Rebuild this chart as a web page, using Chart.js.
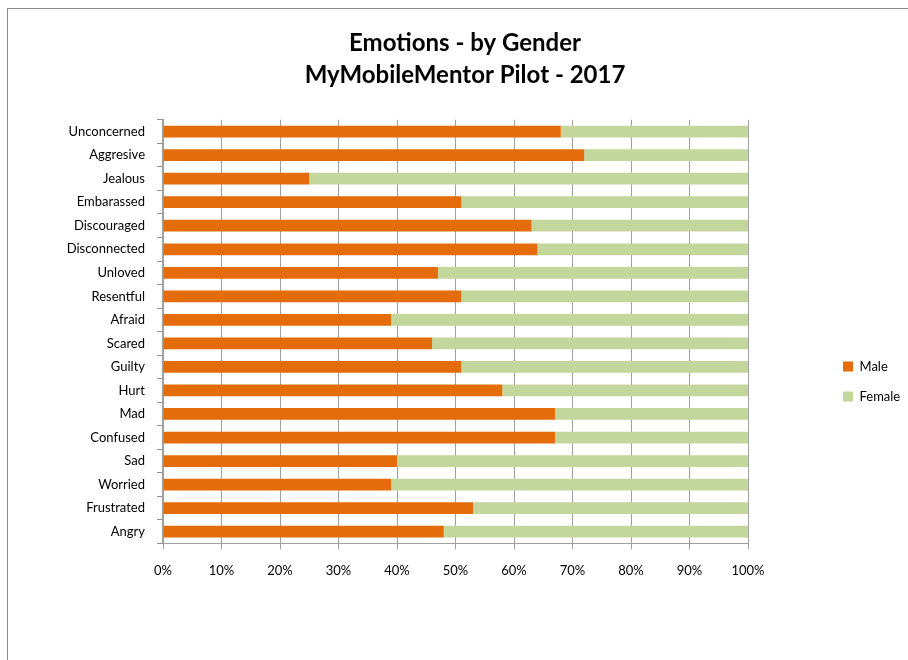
<!DOCTYPE html>
<html lang="en">
<head>
<meta charset="UTF-8" />
<title>Emotions - by Gender</title>
<style>
  html, body { margin: 0; padding: 0; background: #fff; overflow: hidden; }
  .frame { position: absolute; left: 7px; top: 8px; width: 1000px; height: 1000px; border: 1px solid #8c8c8c; }
  .container { position: absolute; left: 0; top: 0; width: 908px; height: 660px; }
</style>
<script src="https://cdn.jsdelivr.net/npm/chart.js@4.4.0/dist/chart.umd.min.js"></script>
</head>
<body>
<div class="frame"></div>
<div class="container"><canvas id="myChart" width="908" height="660"></canvas></div>
<script>
const categories = ['Unconcerned', 'Aggresive', 'Jealous', 'Embarassed', 'Discouraged', 'Disconnected',
  'Unloved', 'Resentful', 'Afraid', 'Scared', 'Guilty', 'Hurt', 'Mad', 'Confused', 'Sad', 'Worried',
  'Frustrated', 'Angry'];
const male = [68, 72, 25, 51, 63, 64, 47, 51, 39, 46, 51, 58, 67, 67, 40, 39, 53, 48];
const female = [32, 28, 75, 49, 37, 36, 53, 49, 61, 54, 49, 42, 33, 33, 60, 61, 47, 52];
const tickLabels = ['0%', '10%', '20%', '30%', '40%', '50%', '60%', '70%', '80%', '90%', '100%'];

window.addEventListener('load', setup);

function setup() {
  Chart.defaults.font.family = 'Lato';
  Chart.defaults.color = '#000';
  const ctx = document.getElementById('myChart').getContext('2d');

  // keep the legend narrow and place it like the Excel one
  const legendPlace = {
    id: 'legendPlace',
    beforeInit(chart) {
      const fit = chart.legend.fit;
      chart.legend.fit = function () { fit.call(this); this.width = 160; };
    },
    afterLayout(chart) {
      const lg = chart.legend;
      lg.left = 826;
      lg.top += 85;
      lg.bottom += 85;
    }
  };

  new Chart(ctx, {
    type: 'bar',
    data: {
      labels: categories,
      datasets: [
        { label: 'Male', data: male, backgroundColor: '#E46C0A', borderWidth: 0 },
        { label: 'Female', data: female, backgroundColor: '#C3D69B', borderWidth: 0 }
      ]
    },
    options: {
      indexAxis: 'y',
      responsive: false,
      animation: false,
      devicePixelRatio: 1,
      layout: { padding: { left: 22, right: 0, top: 0, bottom: 67 } },
      datasets: { bar: { barPercentage: 0.5, categoryPercentage: 1 } },
      scales: {
        x: {
          stacked: true,
          min: 0,
          max: 100,
          grid: { color: '#a0a0a0', tickLength: 6 },
          border: { color: '#a0a0a0' },
          ticks: {
            stepSize: 10,
            padding: 14,
            font: { size: 13 },
            callback: (v, i) => tickLabels[i]
          }
        },
        y: {
          stacked: true,
          grid: { display: true, drawOnChartArea: false, offset: true, tickLength: 6, color: '#909090' },
          border: { color: '#a0a0a0', width: 2 },
          ticks: { padding: 12, font: { size: 13 } },
          afterFit: (scale) => { scale.width = 141; }
        }
      },
      plugins: {
        title: {
          display: true,
          text: ['Emotions - by Gender', 'MyMobileMentor Pilot - 2017'],
          color: '#000',
          font: { size: 24, weight: 'bold', lineHeight: 1.33 },
          padding: { top: 27, bottom: 29 }
        },
        legend: {
          position: 'right',
          labels: { boxWidth: 10, boxHeight: 10, padding: 17, font: { size: 13 }, color: '#000' }
        },
        tooltip: { enabled: false }
      }
    },
    plugins: [legendPlace]
  });
}
</script>
</body>
</html>
